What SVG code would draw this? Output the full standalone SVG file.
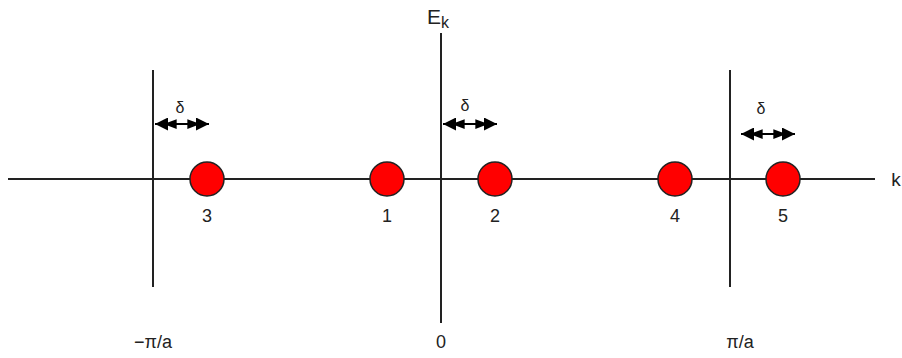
<svg xmlns="http://www.w3.org/2000/svg" width="902" height="358" viewBox="0 0 902 358">
<style>
.ax{stroke:#222;stroke-width:2;fill:none}
.dot{fill:#f00;stroke:#222;stroke-width:1.5}
.t{font-family:"Liberation Sans",Arial,sans-serif;font-size:18px;fill:#222;text-anchor:middle}
.ar{stroke:#000;stroke-width:2;fill:none;marker-start:url(#h);marker-end:url(#h)}
</style>
<defs>
<marker id="h" viewBox="0 0 20 12" refX="20" refY="6" markerWidth="22" markerHeight="13" orient="auto-start-reverse" markerUnits="userSpaceOnUse">
<path d="M8,0 L20,6 L8,12 Z M0,1.5 L12,6 L0,10.5 Z" fill="#000"/>
</marker>
</defs>
<rect width="902" height="358" fill="#fff"/>
<g id="connectors">
<line class="ax" x1="8" y1="179" x2="875" y2="179"/>
<line class="ax" x1="153" y1="70" x2="153" y2="287"/>
<line class="ax" x1="441" y1="33" x2="441" y2="323"/>
<line class="ax" x1="730" y1="70" x2="730" y2="287"/>
<line class="ar" x1="155" y1="124" x2="209" y2="124"/>
<line class="ar" x1="443" y1="124" x2="497" y2="124"/>
<line class="ar" x1="741" y1="134" x2="795" y2="134"/>
</g>
<g id="n3"><circle class="dot" cx="207" cy="179" r="17"/><text class="t" x="207" y="222">3</text></g>
<g id="n1"><circle class="dot" cx="387" cy="179" r="17"/><text class="t" x="387" y="222">1</text></g>
<g id="n2"><circle class="dot" cx="495" cy="179" r="17"/><text class="t" x="495" y="222">2</text></g>
<g id="n4"><circle class="dot" cx="675" cy="179" r="17"/><text class="t" x="675" y="222">4</text></g>
<g id="n5"><circle class="dot" cx="783" cy="179" r="17"/><text class="t" x="783" y="222">5</text></g>
<g id="labels">
<text class="t" x="180" y="113" style="font-size:16px">δ</text>
<text class="t" x="465" y="111" style="font-size:16px">δ</text>
<text class="t" x="761" y="114" style="font-size:16px">δ</text>
<text class="t" x="427" y="24" style="font-size:21px;text-anchor:start">E<tspan dy="4" style="font-size:16px">k</tspan></text>
<text class="t" x="896" y="186" style="font-size:19px">k</text>
<text class="t" x="153" y="348">−π/a</text>
<text class="t" x="441" y="348">0</text>
<text class="t" x="740" y="348">π/a</text>
</g>
</svg>
